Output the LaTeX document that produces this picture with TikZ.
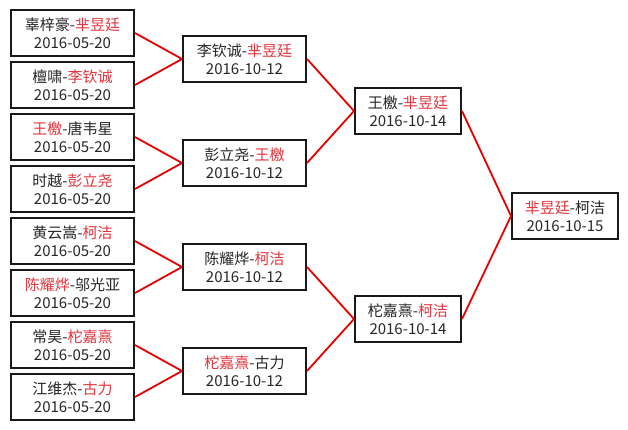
\documentclass[tikz,border=0pt]{standalone}
\usepackage{fontspec}
\setmainfont{Noto Sans CJK SC}
\usepackage{xcolor}
\usepackage{tikz}

\definecolor{winred}{RGB}{228,52,60}
\definecolor{linkred}{RGB}{232,0,0}
\newcommand{\wn}[1]{\textcolor{winred}{#1}}

\begin{document}
\begin{tikzpicture}[
x=1pt, y=-1pt,
box/.style={
draw=black!90,
line width=2pt,
minimum width=123pt,
minimum height=46pt,
inner sep=0pt,
align=center,
font=\fontsize{15}{18}\selectfont,
text=black!85
},
smallbox/.style={
box,
minimum width=106pt
},
link/.style={
draw=linkred,
line width=1.8pt
}
]

\useasboundingbox[fill=white] (0,0) rectangle (628,429);

% first round
\node[box] (r1a) at (72.5,33) {辜梓豪-\wn{芈昱廷}\\2016-05-20};
\node[box] (r1b) at (72.5,85) {檀啸-\wn{李钦诚}\\2016-05-20};
\node[box] (r1c) at (72.5,137) {\wn{王檄}-唐韦星\\2016-05-20};
\node[box] (r1d) at (72.5,189) {时越-\wn{彭立尧}\\2016-05-20};
\node[box] (r1e) at (72.5,241) {黄云嵩-\wn{柯洁}\\2016-05-20};
\node[box] (r1f) at (72.5,293) {\wn{陈耀烨}-邬光亚\\2016-05-20};
\node[box] (r1g) at (72.5,345) {常昊-\wn{柁嘉熹}\\2016-05-20};
\node[box] (r1h) at (72.5,397) {江维杰-\wn{古力}\\2016-05-20};

% second round
\node[box] (r2a) at (244.5,59) {李钦诚-\wn{芈昱廷}\\2016-10-12};
\node[box] (r2b) at (244.5,163) {彭立尧-\wn{王檄}\\2016-10-12};
\node[box] (r2c) at (244.5,267) {陈耀烨-\wn{柯洁}\\2016-10-12};
\node[box] (r2d) at (244.5,371) {\wn{柁嘉熹}-古力\\2016-10-12};

% semi finals
\node[smallbox] (r3a) at (408,111) {王檄-\wn{芈昱廷}\\2016-10-14};
\node[smallbox] (r3b) at (408,319) {柁嘉熹-\wn{柯洁}\\2016-10-14};

% final
\node[smallbox] (fin) at (565,216) {\wn{芈昱廷}-柯洁\\2016-10-15};

\draw[link] (r1a.east) -- (r2a.west);
\draw[link] (r1b.east) -- (r2a.west);
\draw[link] (r1c.east) -- (r2b.west);
\draw[link] (r1d.east) -- (r2b.west);
\draw[link] (r1e.east) -- (r2c.west);
\draw[link] (r1f.east) -- (r2c.west);
\draw[link] (r1g.east) -- (r2d.west);
\draw[link] (r1h.east) -- (r2d.west);

\draw[link] (r2a.east) -- (r3a.west);
\draw[link] (r2b.east) -- (r3a.west);
\draw[link] (r2c.east) -- (r3b.west);
\draw[link] (r2d.east) -- (r3b.west);

\draw[link] (r3a.east) -- (fin.west);
\draw[link] (r3b.east) -- (fin.west);

\end{tikzpicture}
\end{document}
